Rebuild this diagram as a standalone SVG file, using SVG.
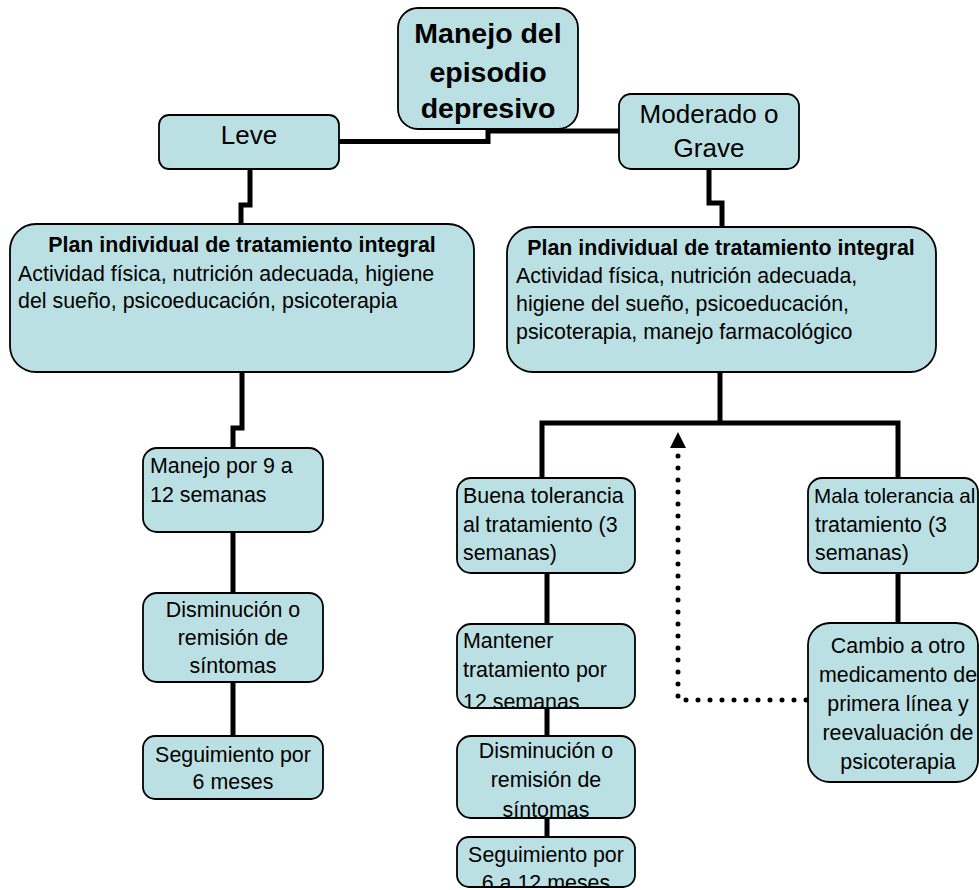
<svg xmlns="http://www.w3.org/2000/svg" width="979" height="890" viewBox="0 0 979 890">
<style>
.box{fill:#BBE0E3;stroke:#000;stroke-width:1.8}
.t{font-family:"Liberation Sans",Arial,sans-serif;font-size:21.4px;fill:#000}
.c{text-anchor:middle}
.b{font-weight:bold}
.big{font-size:26px}
.title{font-size:28.5px;font-weight:bold}
.con{fill:none;stroke:#000;stroke-width:5}
.dot{fill:none;stroke:#000;stroke-width:5;stroke-linecap:round;stroke-dasharray:0 12}
</style>
<defs>
<clipPath id="cMant"><rect x="457" y="624" width="178" height="83"/></clipPath>
<clipPath id="cDis2"><rect x="457" y="736" width="178" height="81"/></clipPath>
<clipPath id="cSeg2"><rect x="457" y="837" width="178" height="49"/></clipPath>
</defs>
<rect width="979" height="890" fill="#fff"/>
<g id="connectors">
<polyline class="con" points="339,141.5 488,141.5 488,131 620,131"/>
<polyline class="con" points="250,169 250,205 241,205 241,224"/>
<polyline class="con" points="709,169 709,203 722,203 722,227"/>
<polyline class="con" points="242,372 242,428 233,428 233,448"/>
<line class="con" x1="233" y1="532" x2="233" y2="593"/>
<line class="con" x1="233" y1="682" x2="233" y2="736"/>
<line class="con" x1="720" y1="372" x2="720" y2="423"/>
<polyline class="con" points="542,478 542,423 898,423 898,478"/>
<line class="con" x1="547" y1="573" x2="547" y2="624"/>
<line class="con" x1="547" y1="708" x2="547" y2="736"/>
<line class="con" x1="547" y1="818" x2="547" y2="837"/>
<line class="con" x1="898" y1="573" x2="898" y2="623"/>
<polyline class="dot" points="806,700 678,700 678,452"/>
<polygon points="678,432 670,448 686,448" fill="#000"/>
</g>
<g id="n-main">
<rect class="box" x="398" y="8" width="180" height="121" rx="20"/>
<text class="t title c" x="488" y="43">Manejo del</text>
<text class="t title c" x="488" y="82">episodio</text>
<text class="t title c" x="488" y="118">depresivo</text>
</g>
<g id="n-leve">
<rect class="box" x="159" y="115" width="180" height="54" rx="10"/>
<text class="t big c" x="249" y="144">Leve</text>
</g>
<g id="n-mod">
<rect class="box" x="619" y="94" width="180" height="75" rx="12"/>
<text class="t big c" x="709" y="123">Moderado o</text>
<text class="t big c" x="709" y="157">Grave</text>
</g>
<g id="n-plan1">
<rect class="box" x="10" y="224" width="464" height="148" rx="26"/>
<text class="t b c" x="242" y="252">Plan individual de tratamiento integral</text>
<text class="t" x="18" y="281">Actividad física, nutrición adecuada, higiene</text>
<text class="t" x="18" y="308">del sueño, psicoeducación, psicoterapia</text>
</g>
<g id="n-plan2">
<rect class="box" x="507" y="227" width="429" height="145" rx="26"/>
<text class="t b c" x="721" y="255">Plan individual de tratamiento integral</text>
<text class="t" x="516" y="283">Actividad física, nutrición adecuada,</text>
<text class="t" x="516" y="311">higiene del sueño, psicoeducación,</text>
<text class="t" x="516" y="339">psicoterapia, manejo farmacológico</text>
</g>
<g id="n-manejo">
<rect class="box" x="143" y="448" width="180" height="84" rx="14"/>
<text class="t" x="150" y="473">Manejo por 9 a</text>
<text class="t" x="150" y="502">12 semanas</text>
</g>
<g id="n-dis1">
<rect class="box" x="143" y="593" width="180" height="89" rx="14"/>
<text class="t c" x="233" y="617">Disminución o</text>
<text class="t c" x="233" y="645">remisión de</text>
<text class="t c" x="233" y="673">síntomas</text>
</g>
<g id="n-seg1">
<rect class="box" x="143" y="736" width="180" height="63" rx="12"/>
<text class="t c" x="233" y="762">Seguimiento por</text>
<text class="t c" x="233" y="789">6 meses</text>
</g>
<g id="n-buena">
<rect class="box" x="457" y="478" width="178" height="95" rx="14"/>
<text class="t" x="463" y="503">Buena tolerancia</text>
<text class="t" x="463" y="532">al tratamiento (3</text>
<text class="t" x="463" y="560">semanas)</text>
</g>
<g id="n-mantener">
<rect class="box" x="457" y="624" width="178" height="84" rx="14"/>
<g clip-path="url(#cMant)">
<text class="t" x="463" y="648">Mantener</text>
<text class="t" x="463" y="677">tratamiento por</text>
<text class="t" x="463" y="709">12 semanas</text>
</g>
</g>
<g id="n-dis2">
<rect class="box" x="457" y="736" width="178" height="82" rx="14"/>
<g clip-path="url(#cDis2)">
<text class="t c" x="546" y="758">Disminución o</text>
<text class="t c" x="546" y="787">remisión de</text>
<text class="t c" x="546" y="817">síntomas</text>
</g>
</g>
<g id="n-seg2">
<rect class="box" x="457" y="837" width="178" height="50" rx="12"/>
<g clip-path="url(#cSeg2)">
<text class="t c" x="546" y="862">Seguimiento por</text>
<text class="t c" x="546" y="890">6 a 12 meses</text>
</g>
</g>
<g id="n-mala">
<rect class="box" x="808" y="478" width="170" height="95" rx="14"/>
<text class="t" x="814" y="503" style="font-size:20.6px">Mala tolerancia al</text>
<text class="t" x="815" y="532">tratamiento (3</text>
<text class="t" x="815" y="560">semanas)</text>
</g>
<g id="n-cambio">
<rect class="box" x="808" y="623" width="170" height="159" rx="22"/>
<text class="t c" x="898" y="653">Cambio a otro</text>
<text class="t c" x="898" y="682">medicamento de</text>
<text class="t c" x="898" y="711">primera línea y</text>
<text class="t c" x="898" y="740">reevaluación de</text>
<text class="t c" x="898" y="769">psicoterapia</text>
</g>
</svg>
